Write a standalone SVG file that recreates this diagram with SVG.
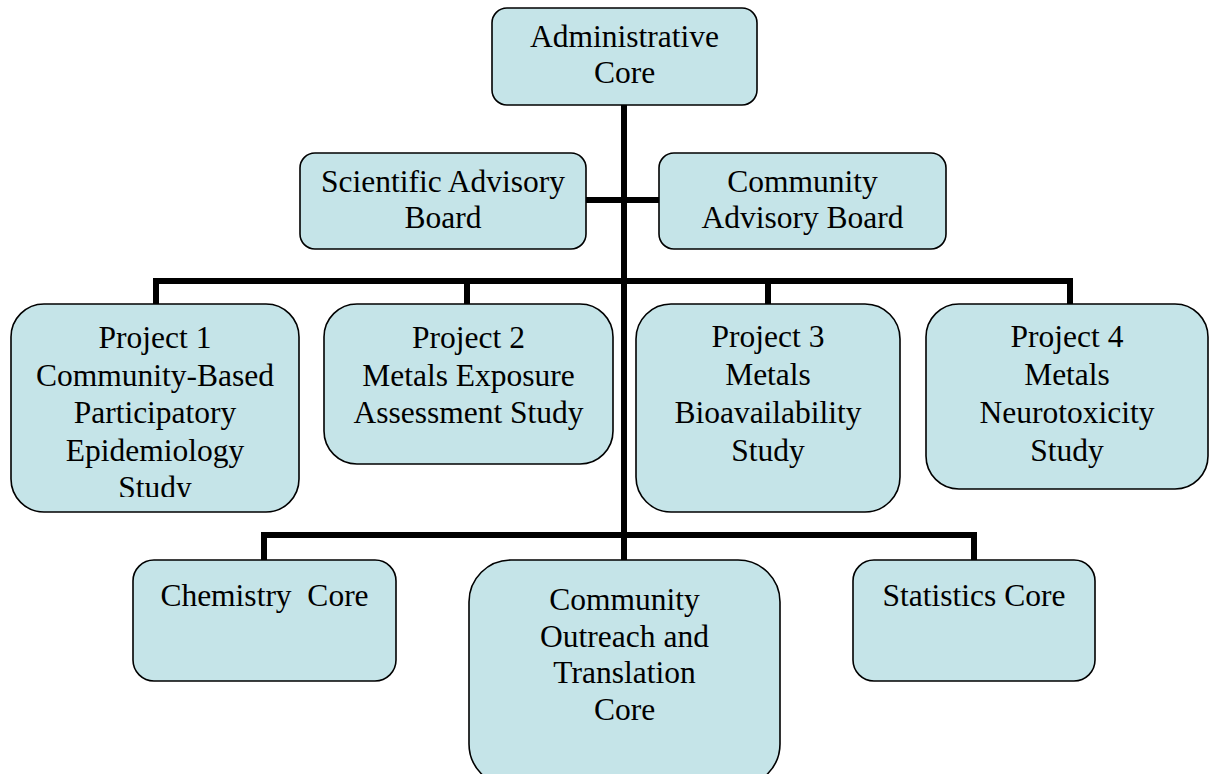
<svg xmlns="http://www.w3.org/2000/svg" width="1209" height="774" viewBox="0 0 1209 774">
<style>
.box{fill:#C5E4E8;stroke:#000;stroke-width:1.6}
.t{font-family:"Liberation Serif","Times New Roman",serif;font-size:31.5px;fill:#000;text-anchor:middle}
.c{fill:none;stroke:#000;stroke-width:6;stroke-linecap:butt;stroke-linejoin:miter}
</style>
<defs>
<clipPath id="clip1"><rect x="0" y="0" width="1209" height="497"/></clipPath>
</defs>
<rect width="1209" height="774" fill="#fff"/>
<g id="connectors">
<path class="c" d="M624,105 V560"/>
<path class="c" d="M586,200 H659"/>
<path class="c" d="M156,305 V281 H1070 V305"/>
<path class="c" d="M467,281 V305"/>
<path class="c" d="M768,281 V305"/>
<path class="c" d="M264,560 V535 H974 V560"/>
</g>
<g id="admin">
<rect class="box" x="492" y="8" width="265" height="97" rx="15"/>
<text class="t" x="624.5" y="47">Administrative</text>
<text class="t" x="624.5" y="83">Core</text>
</g>
<g id="sab">
<rect class="box" x="300" y="153" width="286" height="96" rx="15"/>
<text class="t" x="443" y="192">Scientific Advisory</text>
<text class="t" x="443" y="228">Board</text>
</g>
<g id="cab">
<rect class="box" x="659" y="153" width="287" height="96" rx="15"/>
<text class="t" x="802.5" y="192">Community</text>
<text class="t" x="802.5" y="228">Advisory Board</text>
</g>
<g id="project1">
<rect class="box" x="11" y="304" width="288" height="208" rx="33"/>
<text class="t" x="155" y="348">Project 1</text>
<text class="t" x="155" y="386">Community-Based</text>
<text class="t" x="155" y="423">Participatory</text>
<text class="t" x="155" y="461">Epidemiology</text>
<text class="t" x="155" y="498" clip-path="url(#clip1)">Study</text>
</g>
<g id="project2">
<rect class="box" x="324" y="304" width="289" height="160" rx="33"/>
<text class="t" x="468.5" y="348">Project 2</text>
<text class="t" x="468.5" y="386">Metals Exposure</text>
<text class="t" x="468.5" y="423">Assessment Study</text>
</g>
<g id="project3">
<rect class="box" x="636" y="304" width="264" height="208" rx="35"/>
<text class="t" x="768" y="347">Project 3</text>
<text class="t" x="768" y="385">Metals</text>
<text class="t" x="768" y="423">Bioavailability</text>
<text class="t" x="768" y="461">Study</text>
</g>
<g id="project4">
<rect class="box" x="926" y="304" width="282" height="185" rx="33"/>
<text class="t" x="1067" y="347">Project 4</text>
<text class="t" x="1067" y="385">Metals</text>
<text class="t" x="1067" y="423">Neurotoxicity</text>
<text class="t" x="1067" y="461">Study</text>
</g>
<g id="chemistry">
<rect class="box" x="133" y="560" width="263" height="121" rx="21"/>
<text class="t" x="264.5" y="606" xml:space="preserve">Chemistry  Core</text>
</g>
<g id="outreach">
<rect class="box" x="469" y="560" width="311" height="226" rx="42"/>
<text class="t" x="624.5" y="610">Community</text>
<text class="t" x="624.5" y="647">Outreach and</text>
<text class="t" x="624.5" y="683">Translation</text>
<text class="t" x="624.5" y="720">Core</text>
</g>
<g id="statistics">
<rect class="box" x="853" y="560" width="242" height="121" rx="21"/>
<text class="t" x="974" y="606">Statistics Core</text>
</g>
</svg>
